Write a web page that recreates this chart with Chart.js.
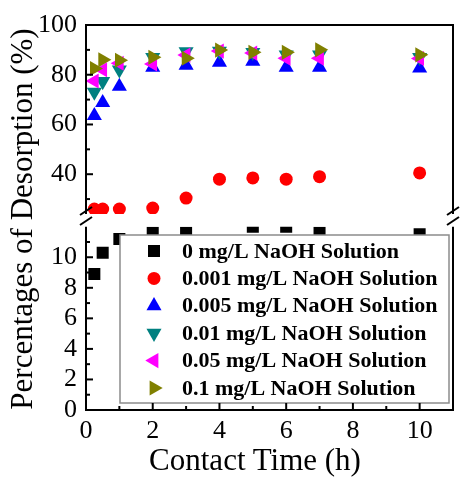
<!DOCTYPE html>
<html>
<head>
<meta charset="utf-8">
<script src="https://cdn.jsdelivr.net/npm/chart.js@4.4.0/dist/chart.umd.min.js"></script>
<style>
html, body { margin: 0; padding: 0; background: #fff; }
#wrap { position: relative; width: 462px; height: 478px; overflow: hidden; font-family: 'Liberation Serif', serif; }
#top, #bottom { position: absolute; left: 0; }
#top { top: 0; }
#bottom { top: 218px; }
.ttl { position: absolute; color: #000; font-size: 31px; white-space: nowrap; text-align: center; height: 36px; line-height: 36px; }
#ytitle { width: 400px; left: -178px; top: 201px; transform: rotate(-90deg); }
#xtitle { width: 300px; left: 105px; top: 442px; }
</style>
</head>
<body>
<div id="wrap">
  <canvas id="top" width="462" height="478"></canvas>
  <canvas id="bottom" width="462" height="260"></canvas>
  <div id="ytitle" class="ttl">Percentages of Desorption (%)</div>
  <div id="xtitle" class="ttl">Contact Time (h)</div>
</div>
<script>
// contact time (h)
const times = [0.25, 0.5, 1, 2, 3, 4, 5, 6, 7, 10];

const seriesNames = [
  '0 mg/L NaOH Solution',
  '0.001 mg/L NaOH Solution',
  '0.005 mg/L NaOH Solution',
  '0.01 mg/L NaOH Solution',
  '0.05 mg/L NaOH Solution',
  '0.1 mg/L NaOH Solution'
];

// desorption (%)
const naoh0     = [8.9, 10.3, 11.2, 11.6, 11.6, 12.6, 12.0, 12.0, 11.6, 11.5];
const naoh0001  = [26.0, 26.0, 26.0, 26.4, 30.4, 38.0, 38.5, 38.0, 39.0, 40.5];
const naoh0005  = [63.5, 68.8, 75.3, 83.0, 83.8, 85.0, 85.4, 83.0, 83.0, 82.6];
const naoh001   = [73.0, 77.3, 82.0, 87.0, 89.3, 89.5, 89.0, 88.0, 88.0, 87.0];
const naoh005   = [77.5, 82.0, 84.6, 84.3, 87.9, 89.5, 88.7, 86.6, 86.6, 86.5];
const naoh01    = [82.5, 86.0, 85.8, 87.0, 86.6, 89.9, 89.0, 89.0, 90.0, 88.0];
const seriesValues = [naoh0, naoh0001, naoh0005, naoh001, naoh005, naoh01];

// tick labels
const xTicks = [0, 2, 4, 6, 8, 10];
const xMinor = [1, 3, 5, 7, 9];
const yTopTicks = [40, 60, 80, 100];
const yTopMinor = [30, 50, 70, 90];
const yBottomTicks = [0, 2, 4, 6, 8, 10];
const yBottomMinor = [1, 3, 5, 7, 9, 11];

const colors = ['#000000', '#ff0000', '#0000ff', '#008080', '#ff00ff', '#808000'];
const markers = [
  { style: 'rect', rot: 0, r: 8.5 },
  { style: 'circle', rot: 0, r: 6.5 },
  { style: 'triangle', rot: 0, r: 8.7 },
  { style: 'triangle', rot: 180, r: 8.7 },
  { style: 'triangle', rot: 270, r: 8.7 },
  { style: 'triangle', rot: 90, r: 8.7 }
];

Chart.defaults.font.family = "'Liberation Serif', 'Times New Roman', serif";
Chart.defaults.color = '#000';

function makeDatasets() {
  return seriesValues.map((vals, i) => ({
    label: seriesNames[i],
    data: times.map((t, j) => ({ x: t, y: vals[j] })),
    pointStyle: markers[i].style,
    pointRotation: markers[i].rot,
    pointRadius: markers[i].r,
    pointHoverRadius: markers[i].r,
    pointBackgroundColor: colors[i],
    pointBorderWidth: 0,
    showLine: false,
    order: seriesValues.length - i,
    clip: 0
  }));
}

function fitY(s) {
  s.width = 86;
  s.paddingTop = 0;
  s.paddingBottom = 0;
}

function line(ctx, x1, y1, x2, y2) {
  ctx.beginPath();
  ctx.moveTo(x1, y1);
  ctx.lineTo(x2, y2);
  ctx.stroke();
}

function breakMark(ctx, x, y) {
  line(ctx, x - 6, y + 4, x + 6, y - 4);
  line(ctx, x - 6, y + 14, x + 6, y + 6);
}

const topFrame = {
  id: 'topFrame',
  afterDraw(chart) {
    const { ctx, chartArea: a } = chart;
    const y = chart.scales.y;
    ctx.save();
    ctx.strokeStyle = '#000';
    ctx.lineWidth = 2;
    ctx.beginPath();
    ctx.moveTo(a.left, a.bottom);
    ctx.lineTo(a.left, a.top);
    ctx.lineTo(a.right, a.top);
    ctx.lineTo(a.right, a.bottom);
    ctx.stroke();
    yTopTicks.forEach(v => { const p = y.getPixelForValue(v); line(ctx, a.left, p, a.left + 7, p); });
    yTopMinor.forEach(v => { const p = y.getPixelForValue(v); line(ctx, a.left, p, a.left + 4, p); });
    breakMark(ctx, a.left, a.bottom - 3);
    breakMark(ctx, a.right, a.bottom - 3);
    ctx.restore();
  }
};

const bottomFrame = {
  id: 'bottomFrame',
  afterDatasetsDraw(chart) {
    // legend box over the points
    const ctx = chart.ctx;
    ctx.save();
    ctx.fillStyle = '#fff';
    ctx.fillRect(120, 17, 329, 168);
    ctx.strokeStyle = '#8c8c8c';
    ctx.lineWidth = 1.5;
    ctx.strokeRect(120, 17, 329, 168);
    ctx.font = "bold 22px 'Liberation Serif', serif";
    ctx.textBaseline = 'middle';
    ctx.textAlign = 'left';
    seriesNames.forEach((name, i) => {
      const ry = 33 + i * 27.4;
      ctx.fillStyle = colors[i];
      Chart.helpers.drawPoint(ctx, { pointStyle: markers[i].style, rotation: markers[i].rot, radius: markers[i].r, borderWidth: 0 }, 154, ry);
      ctx.fillStyle = '#000';
      ctx.fillText(name, 182, ry + 1);
    });
    ctx.restore();
  },
  afterDraw(chart) {
    const { ctx, chartArea: a } = chart;
    const x = chart.scales.x, y = chart.scales.y;
    ctx.save();
    ctx.strokeStyle = '#000';
    ctx.lineWidth = 2;
    ctx.beginPath();
    ctx.moveTo(a.left, a.top);
    ctx.lineTo(a.left, a.bottom);
    ctx.lineTo(a.right, a.bottom);
    ctx.lineTo(a.right, a.top);
    ctx.stroke();
    yBottomTicks.forEach(v => { const p = y.getPixelForValue(v); line(ctx, a.left, p, a.left + 7, p); });
    yBottomMinor.forEach(v => { const p = y.getPixelForValue(v); line(ctx, a.left, p, a.left + 4, p); });
    xTicks.forEach(v => { const p = x.getPixelForValue(v); line(ctx, p, a.bottom, p, a.bottom - 7); });
    xMinor.forEach(v => { const p = x.getPixelForValue(v); line(ctx, p, a.bottom, p, a.bottom - 4); });
    ctx.restore();
  }
};

const tickFont = { size: 26 };

new Chart(document.getElementById('top'), {
  type: 'scatter',
  data: { datasets: makeDatasets() },
  options: {
    responsive: false,
    animation: false,
    layout: { padding: { top: 25, left: 0, right: 9, bottom: 264 } },
    plugins: { legend: { display: false }, tooltip: { enabled: false } },
    scales: {
      x: { type: 'linear', min: 0, max: 11, display: false },
      y: {
        type: 'linear', min: 24, max: 100,
        afterBuildTicks: s => { s.ticks = yTopTicks.map(v => ({ value: v })); },
        afterFit: fitY,
        grid: { display: false, drawTicks: false },
        border: { display: false },
        ticks: { padding: 9, font: tickFont, color: '#000' }
      }
    }
  },
  plugins: [topFrame]
});

new Chart(document.getElementById('bottom'), {
  type: 'scatter',
  data: { datasets: makeDatasets() },
  options: {
    responsive: false,
    animation: false,
    layout: { padding: { top: 3, left: 0, right: 9, bottom: 0 } },
    plugins: { legend: { display: false }, tooltip: { enabled: false } },
    scales: {
      x: {
        type: 'linear', min: 0, max: 11,
        afterBuildTicks: s => { s.ticks = xTicks.map(v => ({ value: v })); },
        afterFit: s => { s.height = 68; s.paddingLeft = 0; s.paddingRight = 0; },
        grid: { display: false, drawTicks: false },
        border: { display: false },
        ticks: { padding: 6, font: tickFont, color: '#000', maxRotation: 0 }
      },
      y: {
        type: 'linear', min: 0, max: 12,
        afterBuildTicks: s => { s.ticks = yBottomTicks.map(v => ({ value: v })); },
        afterFit: fitY,
        grid: { display: false, drawTicks: false },
        border: { display: false },
        ticks: { padding: 9, font: tickFont, color: '#000' }
      }
    }
  },
  plugins: [bottomFrame]
});
</script>
</body>
</html>
